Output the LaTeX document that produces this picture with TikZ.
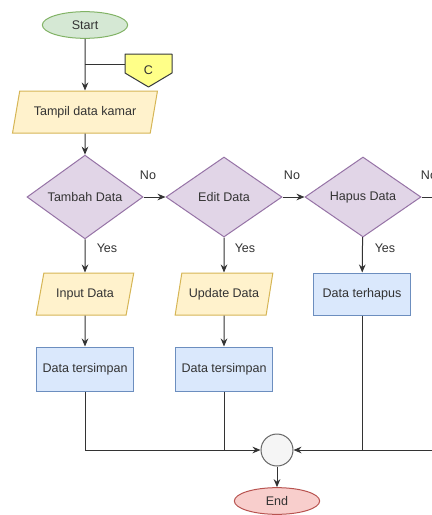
\documentclass[tikz,border=0pt]{standalone}
\usepackage{fontspec}
\setmainfont{Liberation Sans}
\usetikzlibrary{shapes.geometric,arrows.meta}

\definecolor{startFill}{HTML}{D5E8D4}
\definecolor{startLine}{HTML}{82B366}
\definecolor{ioFill}{HTML}{FFF2CC}
\definecolor{ioLine}{HTML}{D6B656}
\definecolor{decFill}{HTML}{E1D5E7}
\definecolor{decLine}{HTML}{9673A6}
\definecolor{procFill}{HTML}{DAE8FC}
\definecolor{procLine}{HTML}{6C8EBF}
\definecolor{joinFill}{HTML}{F5F5F5}
\definecolor{joinLine}{HTML}{666666}
\definecolor{endFill}{HTML}{F8CECC}
\definecolor{endLine}{HTML}{B85450}
\definecolor{cFill}{HTML}{FFFF88}
\definecolor{cLine}{HTML}{36393D}

\tikzset{
  base/.style={draw, line width=0.75pt, inner sep=1pt, text=black!80,
    font=\fontsize{9.4}{11}\selectfont},
  terminal/.style={base, ellipse, minimum width=64pt, minimum height=20pt},
  io/.style={base, trapezium, trapezium left angle=68, trapezium right angle=112,
    trapezium stretches=true, fill=ioFill, draw=ioLine,
    minimum width=73.5pt, minimum height=31.5pt},
  decision/.style={base, diamond, fill=decFill, draw=decLine,
    minimum width=87pt, minimum height=60pt, inner sep=0pt},
  process/.style={base, rectangle, fill=procFill, draw=procLine,
    minimum width=73pt, minimum height=33pt},
  junction/.style={base, circle, fill=joinFill, draw=joinLine, minimum size=24pt},
  offpage/.style={line width=0.75pt, fill=cFill, draw=cLine, line join=round},
  cbox/.style={rectangle, inner sep=0pt, minimum width=35.25pt, minimum height=24.75pt,
    text=black!80, font=\fontsize{9.4}{11}\selectfont},
  lbl/.style={text=black!80, font=\fontsize{9.4}{11}\selectfont},
  arr/.style={-{Stealth[length=6pt,width=5pt]}},
  line/.style={line width=0.75pt, draw=black!80}
}

\begin{document}
\begin{tikzpicture}[x=0.75pt,y=-0.75pt]
\useasboundingbox (0,0) rectangle (432,515);
\clip (0,0) rectangle (432,515);
\fill[white] (0,0) rectangle (432,515);

\node[terminal, fill=startFill, draw=startLine] (start) at (85,25) {Start};
\coordinate (j) at (85,64);
\coordinate (cc) at (148.5,70.5);
\filldraw[offpage] ([shift={(-23.5,-16.5)}]cc) -- ++(47,0) -- ++(0,19)
  -- ++(-23.5,14) -- ++(-23.5,-14) -- cycle;
\node[cbox] (c) at (cc) {C};
\node[io, minimum width=109pt] (tampil) at (85,112) {Tampil data kamar};

\node[decision] (tambah) at (85,197) {Tambah Data};
\node[decision] (edit) at (224,197) {Edit Data};
\node[decision] (hapus) at (363,197) {Hapus Data};
\coordinate (keluar) at (440,197);

\node[io] (input) at (85,294) {Input Data};
\node[io] (update) at (224,294) {Update Data};
\node[process, minimum height=31.5pt] (terhapus) at (362,294) {Data terhapus};

\node[process] (simpan1) at (85,369) {Data tersimpan};
\node[process] (simpan2) at (224,369) {Data tersimpan};

\node[junction] (gabung) at (277,450) {};
\coordinate (masuk) at (440,450);
\node[terminal, fill=endFill, draw=endLine] (end) at (277,501) {End};

\node[lbl] (no1) at (148,175) {No};
\node[lbl] (no2) at (292,175) {No};
\node[lbl] (no3) at (429,175) {No};
\node[lbl] (yes1) at (107,248) {Yes};
\node[lbl] (yes2) at (245,248) {Yes};
\node[lbl] (yes3) at (385,248) {Yes};

\draw[line, arr] (start) -- (tampil);
\draw[line] (j) -- (j -| c.west);
\draw[line, arr] (tampil) -- (tambah);
\draw[line, arr] (tambah) -- (edit);
\draw[line, arr] (edit) -- (hapus);
\draw[line] (hapus) -- (keluar);

\draw[line, arr] (tambah) -- (input);
\draw[line, arr] (edit) -- (update);
\draw[line, arr] (hapus) -- (terhapus);
\draw[line, arr] (input) -- (simpan1);
\draw[line, arr] (update) -- (simpan2);

\draw[line, arr] (simpan1) |- (gabung);
\draw[line] (simpan2) -- (simpan2 |- gabung);
\draw[line] (terhapus) -- (terhapus |- gabung);
\draw[line, arr] (masuk) -- (gabung);
\draw[line, arr] (gabung) -- (end);
\end{tikzpicture}
\end{document}
